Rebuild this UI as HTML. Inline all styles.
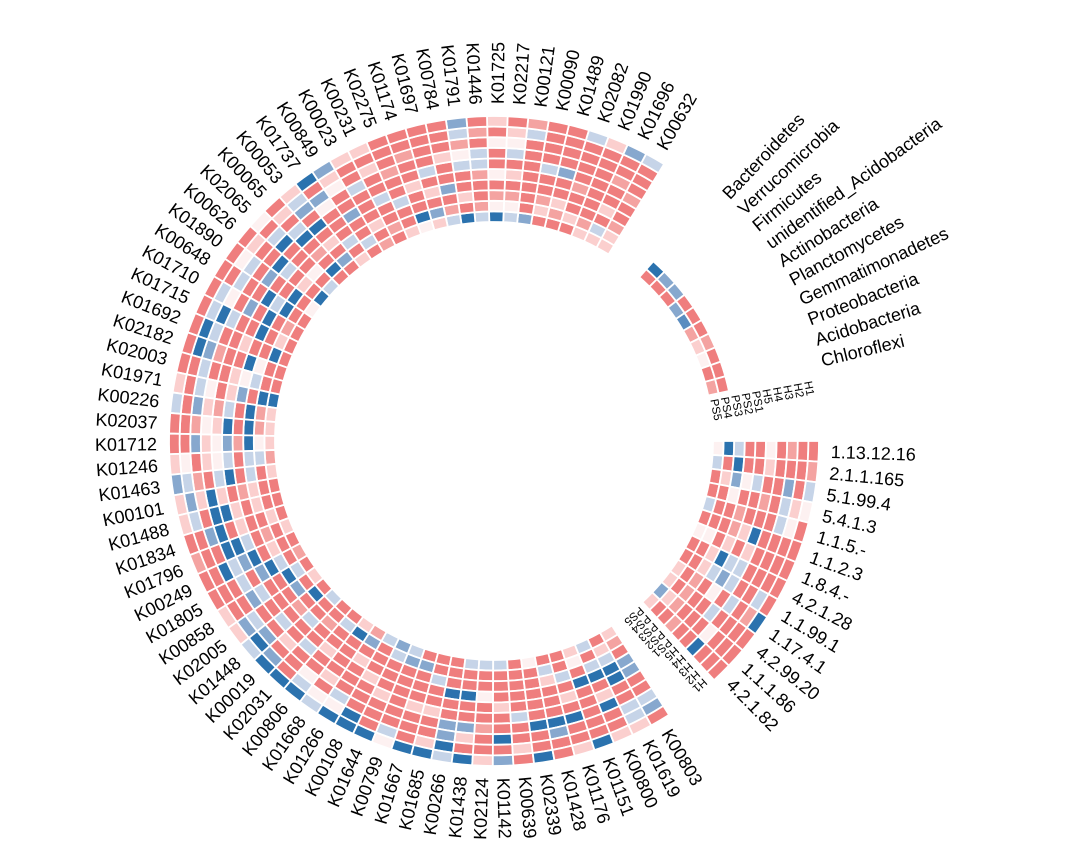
<!DOCTYPE html>
<html><head><meta charset="utf-8"><style>
html,body{margin:0;padding:0;background:#fff;}
svg{display:block;}
use{fill:#EF7E7E;stroke:#fff;stroke-width:1.8;}
.r{fill:#F4A3A1}.p{fill:#FBCFCE}.w{fill:#FDF1F1}.l{fill:#C6D4E8}.m{fill:#87A8CE}.M{fill:#5B8DC0}.B{fill:#2B72AE}
text{font-family:"Liberation Sans",Arial,sans-serif;font-size:18px;fill:#000;}
.t{font-size:11.5px;}
</style></head><body>
<svg width="1076" height="854" viewBox="0 0 1076 854" xmlns="http://www.w3.org/2000/svg">
<defs>
<path id="c0" d="M229.484,-7.3A229.6,229.6 0 0 1 229.484,7.3L218.889,6.963A219,219 0 0 0 218.889,-6.963Z"/>
<path id="c1" d="M240.078,-7.637A240.2,240.2 0 0 1 240.078,7.637L229.484,7.3A229.6,229.6 0 0 0 229.484,-7.3Z"/>
<path id="c2" d="M250.673,-7.974A250.8,250.8 0 0 1 250.673,7.974L240.078,7.637A240.2,240.2 0 0 0 240.078,-7.637Z"/>
<path id="c3" d="M261.268,-8.311A261.4,261.4 0 0 1 261.268,8.311L250.673,7.974A250.8,250.8 0 0 0 250.673,-7.974Z"/>
<path id="c4" d="M271.862,-8.648A272,272 0 0 1 271.862,8.648L261.268,8.311A261.4,261.4 0 0 0 261.268,-8.311Z"/>
<path id="c5" d="M282.457,-8.985A282.6,282.6 0 0 1 282.457,8.985L271.862,8.648A272,272 0 0 0 271.862,-8.648Z"/>
<path id="c6" d="M293.052,-9.322A293.2,293.2 0 0 1 293.052,9.322L282.457,8.985A282.6,282.6 0 0 0 282.457,-8.985Z"/>
<path id="c7" d="M303.646,-9.659A303.8,303.8 0 0 1 303.646,9.659L293.052,9.322A293.2,293.2 0 0 0 293.052,-9.322Z"/>
<path id="c8" d="M314.241,-9.996A314.4,314.4 0 0 1 314.241,9.996L303.646,9.659A303.8,303.8 0 0 0 303.646,-9.659Z"/>
<path id="c9" d="M324.836,-10.333A325,325 0 0 1 324.836,10.333L314.241,9.996A314.4,314.4 0 0 0 314.241,-9.996Z"/>
</defs>
<g transform="translate(494,441)">
<!-- K sector cells -->
<g transform="rotate(-60.262)"><use href="#c0" class="p"/><use href="#c1" class="p"/><use href="#c2" class="r"/><use href="#c3"/><use href="#c4"/><use href="#c5" class="r"/><use href="#c6"/><use href="#c7"/><use href="#c8"/><use href="#c9" class="l"/></g>
<g transform="rotate(-63.906)"><use href="#c0" class="p"/><use href="#c1" class="l"/><use href="#c2"/><use href="#c3" class="p"/><use href="#c4"/><use href="#c5"/><use href="#c6" class="r"/><use href="#c7"/><use href="#c8"/><use href="#c9" class="m"/></g>
<g transform="rotate(-67.550)"><use href="#c0" class="p"/><use href="#c1" class="r"/><use href="#c2"/><use href="#c3"/><use href="#c4"/><use href="#c5"/><use href="#c6"/><use href="#c7"/><use href="#c8"/><use href="#c9" class="p"/></g>
<g transform="rotate(-71.194)"><use href="#c0"/><use href="#c1" class="p"/><use href="#c2"/><use href="#c3"/><use href="#c4" class="r"/><use href="#c5"/><use href="#c6"/><use href="#c7"/><use href="#c8"/><use href="#c9" class="l"/></g>
<g transform="rotate(-74.838)"><use href="#c0"/><use href="#c1" class="r"/><use href="#c2" class="p"/><use href="#c3"/><use href="#c4"/><use href="#c5" class="m"/><use href="#c6"/><use href="#c7"/><use href="#c8"/><use href="#c9"/></g>
<g transform="rotate(-78.482)"><use href="#c0"/><use href="#c1" class="p"/><use href="#c2" class="r"/><use href="#c3"/><use href="#c4"/><use href="#c5" class="l"/><use href="#c6"/><use href="#c7"/><use href="#c8"/><use href="#c9"/></g>
<g transform="rotate(-82.126)"><use href="#c0" class="m"/><use href="#c1"/><use href="#c2"/><use href="#c3"/><use href="#c4"/><use href="#c5"/><use href="#c6"/><use href="#c7"/><use href="#c8" class="l"/><use href="#c9" class="r"/></g>
<g transform="rotate(-85.770)"><use href="#c0" class="l"/><use href="#c1" class="w"/><use href="#c2" class="r"/><use href="#c3"/><use href="#c4" class="p"/><use href="#c5"/><use href="#c6" class="l"/><use href="#c7" class="w"/><use href="#c8" class="p"/><use href="#c9"/></g>
<g transform="rotate(-89.414)"><use href="#c0" class="B"/><use href="#c1" class="w"/><use href="#c2" class="r"/><use href="#c3"/><use href="#c4" class="w"/><use href="#c5"/><use href="#c6"/><use href="#c7" class="w"/><use href="#c8"/><use href="#c9" class="p"/></g>
<g transform="rotate(-93.058)"><use href="#c0" class="l"/><use href="#c1" class="r"/><use href="#c2"/><use href="#c3"/><use href="#c4" class="r"/><use href="#c5" class="l"/><use href="#c6" class="l"/><use href="#c7"/><use href="#c8" class="r"/><use href="#c9"/></g>
<g transform="rotate(-96.702)"><use href="#c0" class="B"/><use href="#c1"/><use href="#c2" class="p"/><use href="#c3"/><use href="#c4"/><use href="#c5" class="l"/><use href="#c6" class="w"/><use href="#c7" class="r"/><use href="#c8" class="l"/><use href="#c9" class="m"/></g>
<g transform="rotate(-100.346)"><use href="#c0" class="l"/><use href="#c1" class="r"/><use href="#c2"/><use href="#c3" class="m"/><use href="#c4"/><use href="#c5"/><use href="#c6" class="p"/><use href="#c7"/><use href="#c8"/><use href="#c9"/></g>
<g transform="rotate(-103.990)"><use href="#c0" class="p"/><use href="#c1" class="m"/><use href="#c2"/><use href="#c3" class="p"/><use href="#c4"/><use href="#c5" class="l"/><use href="#c6"/><use href="#c7"/><use href="#c8"/><use href="#c9"/></g>
<g transform="rotate(-107.634)"><use href="#c0" class="w"/><use href="#c1" class="B"/><use href="#c2"/><use href="#c3"/><use href="#c4" class="p"/><use href="#c5"/><use href="#c6"/><use href="#c7" class="r"/><use href="#c8"/><use href="#c9"/></g>
<g transform="rotate(-111.278)"><use href="#c0" class="p"/><use href="#c1"/><use href="#c2"/><use href="#c3" class="l"/><use href="#c4"/><use href="#c5"/><use href="#c6" class="r"/><use href="#c7"/><use href="#c8"/><use href="#c9"/></g>
<g transform="rotate(-114.922)"><use href="#c0"/><use href="#c1" class="r"/><use href="#c2"/><use href="#c3"/><use href="#c4" class="l"/><use href="#c5"/><use href="#c6"/><use href="#c7" class="p"/><use href="#c8"/><use href="#c9" class="p"/></g>
<g transform="rotate(-118.566)"><use href="#c0" class="r"/><use href="#c1"/><use href="#c2" class="p"/><use href="#c3"/><use href="#c4"/><use href="#c5"/><use href="#c6" class="l"/><use href="#c7"/><use href="#c8"/><use href="#c9" class="p"/></g>
<g transform="rotate(-122.210)"><use href="#c0"/><use href="#c1" class="l"/><use href="#c2"/><use href="#c3"/><use href="#c4" class="m"/><use href="#c5"/><use href="#c6"/><use href="#c7" class="w"/><use href="#c8" class="p"/><use href="#c9" class="m"/></g>
<g transform="rotate(-125.854)"><use href="#c0" class="p"/><use href="#c1"/><use href="#c2" class="l"/><use href="#c3"/><use href="#c4"/><use href="#c5"/><use href="#c6" class="w"/><use href="#c7" class="m"/><use href="#c8"/><use href="#c9" class="B"/></g>
<g transform="rotate(-129.498)"><use href="#c0"/><use href="#c1" class="m"/><use href="#c2"/><use href="#c3" class="p"/><use href="#c4"/><use href="#c5" class="B"/><use href="#c6"/><use href="#c7" class="m"/><use href="#c8" class="l"/><use href="#c9" class="p"/></g>
<g transform="rotate(-133.142)"><use href="#c0"/><use href="#c1" class="B"/><use href="#c2"/><use href="#c3" class="r"/><use href="#c4"/><use href="#c5" class="B"/><use href="#c6" class="l"/><use href="#c7"/><use href="#c8" class="p"/><use href="#c9"/></g>
<g transform="rotate(-136.786)"><use href="#c0" class="l"/><use href="#c1"/><use href="#c2" class="w"/><use href="#c3"/><use href="#c4"/><use href="#c5"/><use href="#c6" class="B"/><use href="#c7" class="l"/><use href="#c8"/><use href="#c9" class="w"/></g>
<g transform="rotate(-140.430)"><use href="#c0" class="B"/><use href="#c1"/><use href="#c2" class="p"/><use href="#c3"/><use href="#c4" class="l"/><use href="#c5" class="B"/><use href="#c6"/><use href="#c7"/><use href="#c8" class="p"/><use href="#c9"/></g>
<g transform="rotate(-144.074)"><use href="#c0" class="w"/><use href="#c1"/><use href="#c2" class="B"/><use href="#c3"/><use href="#c4"/><use href="#c5" class="m"/><use href="#c6"/><use href="#c7" class="l"/><use href="#c8" class="w"/><use href="#c9"/></g>
<g transform="rotate(-147.718)"><use href="#c0"/><use href="#c1"/><use href="#c2" class="B"/><use href="#c3" class="l"/><use href="#c4" class="B"/><use href="#c5"/><use href="#c6"/><use href="#c7" class="l"/><use href="#c8"/><use href="#c9"/></g>
<g transform="rotate(-151.362)"><use href="#c0"/><use href="#c1" class="r"/><use href="#c2"/><use href="#c3" class="B"/><use href="#c4"/><use href="#c5" class="m"/><use href="#c6"/><use href="#c7" class="w"/><use href="#c8" class="l"/><use href="#c9"/></g>
<g transform="rotate(-155.006)"><use href="#c0"/><use href="#c1" class="p"/><use href="#c2"/><use href="#c3" class="B"/><use href="#c4"/><use href="#c5"/><use href="#c6" class="l"/><use href="#c7" class="B"/><use href="#c8" class="l"/><use href="#c9"/></g>
<g transform="rotate(-158.650)"><use href="#c0"/><use href="#c1" class="B"/><use href="#c2"/><use href="#c3"/><use href="#c4" class="p"/><use href="#c5"/><use href="#c6"/><use href="#c7" class="l"/><use href="#c8" class="B"/><use href="#c9"/></g>
<g transform="rotate(-162.294)"><use href="#c0"/><use href="#c1"/><use href="#c2" class="w"/><use href="#c3" class="B"/><use href="#c4"/><use href="#c5"/><use href="#c6" class="r"/><use href="#c7" class="m"/><use href="#c8" class="B"/><use href="#c9"/></g>
<g transform="rotate(-165.938)"><use href="#c0"/><use href="#c1"/><use href="#c2" class="l"/><use href="#c3" class="w"/><use href="#c4" class="p"/><use href="#c5"/><use href="#c6"/><use href="#c7" class="l"/><use href="#c8"/><use href="#c9"/></g>
<g transform="rotate(-169.582)"><use href="#c0" class="B"/><use href="#c1" class="B"/><use href="#c2"/><use href="#c3" class="m"/><use href="#c4" class="p"/><use href="#c5"/><use href="#c6" class="w"/><use href="#c7" class="l"/><use href="#c8"/><use href="#c9" class="p"/></g>
<g transform="rotate(-173.226)"><use href="#c0" class="p"/><use href="#c1" class="r"/><use href="#c2" class="B"/><use href="#c3"/><use href="#c4" class="l"/><use href="#c5" class="r"/><use href="#c6" class="p"/><use href="#c7" class="m"/><use href="#c8"/><use href="#c9" class="l"/></g>
<g transform="rotate(-176.870)"><use href="#c0" class="p"/><use href="#c1" class="r"/><use href="#c2" class="B"/><use href="#c3"/><use href="#c4" class="B"/><use href="#c5" class="p"/><use href="#c6" class="w"/><use href="#c7" class="r"/><use href="#c8"/><use href="#c9"/></g>
<g transform="rotate(-180.514)"><use href="#c0" class="p"/><use href="#c1" class="w"/><use href="#c2" class="B"/><use href="#c3" class="r"/><use href="#c4" class="m"/><use href="#c5" class="w"/><use href="#c6" class="p"/><use href="#c7" class="m"/><use href="#c8"/><use href="#c9"/></g>
<g transform="rotate(-184.158)"><use href="#c0" class="r"/><use href="#c1" class="l"/><use href="#c2" class="l"/><use href="#c3"/><use href="#c4" class="l"/><use href="#c5" class="w"/><use href="#c6" class="p"/><use href="#c7"/><use href="#c8" class="w"/><use href="#c9" class="p"/></g>
<g transform="rotate(-187.802)"><use href="#c0" class="p"/><use href="#c1"/><use href="#c2" class="l"/><use href="#c3"/><use href="#c4" class="B"/><use href="#c5" class="l"/><use href="#c6"/><use href="#c7" class="r"/><use href="#c8" class="l"/><use href="#c9" class="m"/></g>
<g transform="rotate(-191.446)"><use href="#c0"/><use href="#c1"/><use href="#c2" class="p"/><use href="#c3" class="r"/><use href="#c4"/><use href="#c5" class="p"/><use href="#c6" class="B"/><use href="#c7" class="p"/><use href="#c8" class="m"/><use href="#c9" class="p"/></g>
<g transform="rotate(-195.090)"><use href="#c0"/><use href="#c1"/><use href="#c2" class="p"/><use href="#c3"/><use href="#c4" class="p"/><use href="#c5" class="B"/><use href="#c6" class="B"/><use href="#c7"/><use href="#c8" class="l"/><use href="#c9" class="p"/></g>
<g transform="rotate(-198.734)"><use href="#c0"/><use href="#c1" class="p"/><use href="#c2"/><use href="#c3"/><use href="#c4" class="p"/><use href="#c5"/><use href="#c6" class="B"/><use href="#c7" class="m"/><use href="#c8"/><use href="#c9"/></g>
<g transform="rotate(-202.378)"><use href="#c0" class="p"/><use href="#c1"/><use href="#c2" class="r"/><use href="#c3"/><use href="#c4" class="l"/><use href="#c5" class="B"/><use href="#c6" class="B"/><use href="#c7"/><use href="#c8"/><use href="#c9" class="r"/></g>
<g transform="rotate(-206.022)"><use href="#c0"/><use href="#c1"/><use href="#c2" class="p"/><use href="#c3"/><use href="#c4" class="B"/><use href="#c5" class="m"/><use href="#c6" class="l"/><use href="#c7" class="B"/><use href="#c8"/><use href="#c9"/></g>
<g transform="rotate(-209.666)"><use href="#c0" class="r"/><use href="#c1"/><use href="#c2" class="l"/><use href="#c3" class="B"/><use href="#c4" class="m"/><use href="#c5"/><use href="#c6" class="l"/><use href="#c7"/><use href="#c8"/><use href="#c9"/></g>
<g transform="rotate(-213.310)"><use href="#c0"/><use href="#c1" class="l"/><use href="#c2" class="B"/><use href="#c3"/><use href="#c4"/><use href="#c5" class="l"/><use href="#c6" class="m"/><use href="#c7"/><use href="#c8"/><use href="#c9" class="p"/></g>
<g transform="rotate(-216.954)"><use href="#c0" class="p"/><use href="#c1"/><use href="#c2" class="m"/><use href="#c3"/><use href="#c4"/><use href="#c5"/><use href="#c6"/><use href="#c7" class="l"/><use href="#c8" class="m"/><use href="#c9" class="p"/></g>
<g transform="rotate(-220.598)"><use href="#c0"/><use href="#c1" class="B"/><use href="#c2"/><use href="#c3" class="r"/><use href="#c4"/><use href="#c5" class="l"/><use href="#c6"/><use href="#c7" class="m"/><use href="#c8" class="B"/><use href="#c9" class="l"/></g>
<g transform="rotate(-224.242)"><use href="#c0" class="l"/><use href="#c1"/><use href="#c2"/><use href="#c3" class="l"/><use href="#c4"/><use href="#c5"/><use href="#c6" class="p"/><use href="#c7"/><use href="#c8" class="m"/><use href="#c9" class="B"/></g>
<g transform="rotate(-227.886)"><use href="#c0"/><use href="#c1"/><use href="#c2" class="r"/><use href="#c3"/><use href="#c4"/><use href="#c5" class="l"/><use href="#c6"/><use href="#c7"/><use href="#c8"/><use href="#c9" class="B"/></g>
<g transform="rotate(-231.530)"><use href="#c0"/><use href="#c1" class="l"/><use href="#c2"/><use href="#c3"/><use href="#c4" class="p"/><use href="#c5"/><use href="#c6"/><use href="#c7" class="w"/><use href="#c8" class="l"/><use href="#c9" class="B"/></g>
<g transform="rotate(-235.174)"><use href="#c0" class="p"/><use href="#c1" class="B"/><use href="#c2"/><use href="#c3"/><use href="#c4"/><use href="#c5"/><use href="#c6" class="p"/><use href="#c7"/><use href="#c8" class="w"/><use href="#c9" class="l"/></g>
<g transform="rotate(-238.818)"><use href="#c0" class="r"/><use href="#c1" class="m"/><use href="#c2"/><use href="#c3" class="p"/><use href="#c4"/><use href="#c5"/><use href="#c6"/><use href="#c7" class="l"/><use href="#c8" class="w"/><use href="#c9" class="B"/></g>
<g transform="rotate(-242.462)"><use href="#c0" class="l"/><use href="#c1"/><use href="#c2"/><use href="#c3"/><use href="#c4" class="p"/><use href="#c5"/><use href="#c6"/><use href="#c7"/><use href="#c8" class="B"/><use href="#c9" class="B"/></g>
<g transform="rotate(-246.106)"><use href="#c0" class="m"/><use href="#c1" class="l"/><use href="#c2"/><use href="#c3"/><use href="#c4"/><use href="#c5" class="p"/><use href="#c6"/><use href="#c7"/><use href="#c8"/><use href="#c9" class="B"/></g>
<g transform="rotate(-249.750)"><use href="#c0" class="l"/><use href="#c1" class="m"/><use href="#c2"/><use href="#c3"/><use href="#c4"/><use href="#c5"/><use href="#c6"/><use href="#c7"/><use href="#c8" class="l"/><use href="#c9" class="w"/></g>
<g transform="rotate(-253.394)"><use href="#c0"/><use href="#c1" class="m"/><use href="#c2"/><use href="#c3"/><use href="#c4"/><use href="#c5" class="p"/><use href="#c6"/><use href="#c7"/><use href="#c8"/><use href="#c9" class="B"/></g>
<g transform="rotate(-257.038)"><use href="#c0"/><use href="#c1"/><use href="#c2" class="l"/><use href="#c3"/><use href="#c4"/><use href="#c5" class="p"/><use href="#c6"/><use href="#c7"/><use href="#c8" class="p"/><use href="#c9" class="B"/></g>
<g transform="rotate(-260.682)"><use href="#c0"/><use href="#c1"/><use href="#c2"/><use href="#c3" class="B"/><use href="#c4"/><use href="#c5"/><use href="#c6" class="m"/><use href="#c7" class="m"/><use href="#c8" class="B"/><use href="#c9" class="l"/></g>
<g transform="rotate(-264.326)"><use href="#c0" class="l"/><use href="#c1"/><use href="#c2"/><use href="#c3" class="B"/><use href="#c4"/><use href="#c5"/><use href="#c6" class="m"/><use href="#c7" class="p"/><use href="#c8"/><use href="#c9" class="B"/></g>
<g transform="rotate(-267.970)"><use href="#c0" class="l"/><use href="#c1"/><use href="#c2"/><use href="#c3" class="w"/><use href="#c4"/><use href="#c5"/><use href="#c6" class="r"/><use href="#c7"/><use href="#c8"/><use href="#c9" class="p"/></g>
<g transform="rotate(-271.614)"><use href="#c0" class="l"/><use href="#c1"/><use href="#c2"/><use href="#c3"/><use href="#c4" class="p"/><use href="#c5"/><use href="#c6"/><use href="#c7" class="B"/><use href="#c8"/><use href="#c9" class="m"/></g>
<g transform="rotate(-275.258)"><use href="#c0"/><use href="#c1"/><use href="#c2"/><use href="#c3"/><use href="#c4"/><use href="#c5" class="l"/><use href="#c6"/><use href="#c7"/><use href="#c8" class="p"/><use href="#c9"/></g>
<g transform="rotate(-278.902)"><use href="#c0" class="w"/><use href="#c1"/><use href="#c2"/><use href="#c3"/><use href="#c4"/><use href="#c5"/><use href="#c6" class="B"/><use href="#c7"/><use href="#c8"/><use href="#c9" class="B"/></g>
<g transform="rotate(-282.546)"><use href="#c0"/><use href="#c1" class="l"/><use href="#c2" class="p"/><use href="#c3"/><use href="#c4"/><use href="#c5"/><use href="#c6" class="B"/><use href="#c7" class="m"/><use href="#c8"/><use href="#c9"/></g>
<g transform="rotate(-286.190)"><use href="#c0"/><use href="#c1"/><use href="#c2" class="l"/><use href="#c3"/><use href="#c4" class="p"/><use href="#c5"/><use href="#c6" class="B"/><use href="#c7"/><use href="#c8"/><use href="#c9" class="p"/></g>
<g transform="rotate(-289.834)"><use href="#c0" class="p"/><use href="#c1" class="w"/><use href="#c2"/><use href="#c3" class="B"/><use href="#c4"/><use href="#c5"/><use href="#c6"/><use href="#c7"/><use href="#c8"/><use href="#c9" class="B"/></g>
<g transform="rotate(-293.478)"><use href="#c0" class="l"/><use href="#c1"/><use href="#c2" class="l"/><use href="#c3" class="B"/><use href="#c4"/><use href="#c5" class="p"/><use href="#c6" class="B"/><use href="#c7"/><use href="#c8"/><use href="#c9" class="p"/></g>
<g transform="rotate(-297.122)"><use href="#c0"/><use href="#c1" class="p"/><use href="#c2" class="l"/><use href="#c3" class="B"/><use href="#c4" class="B"/><use href="#c5"/><use href="#c6"/><use href="#c7" class="l"/><use href="#c8" class="l"/><use href="#c9" class="p"/></g>
<g transform="rotate(-300.766)"><use href="#c0" class="p"/><use href="#c1" class="r"/><use href="#c2"/><use href="#c3" class="m"/><use href="#c4" class="m"/><use href="#c5"/><use href="#c6"/><use href="#c7" class="l"/><use href="#c8" class="m"/><use href="#c9"/></g>
<!-- EC sector cells -->
<g transform="rotate(1.822)"><use href="#c0" class="w"/><use href="#c1" class="B"/><use href="#c2" class="l"/><use href="#c3"/><use href="#c4"/><use href="#c5" class="w"/><use href="#c6"/><use href="#c7" class="r"/><use href="#c8"/><use href="#c9"/></g>
<g transform="rotate(5.466)"><use href="#c0" class="l"/><use href="#c1"/><use href="#c2" class="B"/><use href="#c3"/><use href="#c4"/><use href="#c5" class="p"/><use href="#c6"/><use href="#c7"/><use href="#c8"/><use href="#c9" class="r"/></g>
<g transform="rotate(9.110)"><use href="#c0"/><use href="#c1" class="p"/><use href="#c2" class="m"/><use href="#c3" class="w"/><use href="#c4" class="l"/><use href="#c5"/><use href="#c6"/><use href="#c7" class="m"/><use href="#c8"/><use href="#c9" class="l"/></g>
<g transform="rotate(12.754)"><use href="#c0"/><use href="#c1"/><use href="#c2" class="w"/><use href="#c3"/><use href="#c4"/><use href="#c5" class="r"/><use href="#c6"/><use href="#c7" class="l"/><use href="#c8" class="p"/><use href="#c9" class="w"/></g>
<g transform="rotate(16.398)"><use href="#c0" class="l"/><use href="#c1"/><use href="#c2"/><use href="#c3" class="r"/><use href="#c4"/><use href="#c5"/><use href="#c6"/><use href="#c7" class="l"/><use href="#c8" class="w"/><use href="#c9"/></g>
<g transform="rotate(20.042)"><use href="#c0"/><use href="#c1"/><use href="#c2"/><use href="#c3" class="r"/><use href="#c4" class="p"/><use href="#c5" class="B"/><use href="#c6"/><use href="#c7"/><use href="#c8"/><use href="#c9"/></g>
<g transform="rotate(23.686)"><use href="#c0" class="w"/><use href="#c1" class="w"/><use href="#c2"/><use href="#c3" class="p"/><use href="#c4"/><use href="#c5" class="p"/><use href="#c6"/><use href="#c7"/><use href="#c8"/><use href="#c9"/></g>
<g transform="rotate(27.330)"><use href="#c0"/><use href="#c1"/><use href="#c2" class="p"/><use href="#c3" class="B"/><use href="#c4" class="l"/><use href="#c5" class="l"/><use href="#c6"/><use href="#c7"/><use href="#c8"/><use href="#c9"/></g>
<g transform="rotate(30.974)"><use href="#c0"/><use href="#c1"/><use href="#c2" class="p"/><use href="#c3" class="l"/><use href="#c4" class="m"/><use href="#c5" class="l"/><use href="#c6"/><use href="#c7"/><use href="#c8" class="l"/><use href="#c9"/></g>
<g transform="rotate(34.618)"><use href="#c0" class="p"/><use href="#c1"/><use href="#c2" class="r"/><use href="#c3"/><use href="#c4" class="w"/><use href="#c5"/><use href="#c6" class="l"/><use href="#c7"/><use href="#c8" class="r"/><use href="#c9" class="B"/></g>
<g transform="rotate(38.262)"><use href="#c0" class="p"/><use href="#c1"/><use href="#c2" class="r"/><use href="#c3"/><use href="#c4"/><use href="#c5" class="l"/><use href="#c6"/><use href="#c7"/><use href="#c8"/><use href="#c9"/></g>
<g transform="rotate(41.906)"><use href="#c0" class="m"/><use href="#c1" class="p"/><use href="#c2" class="r"/><use href="#c3"/><use href="#c4"/><use href="#c5"/><use href="#c6" class="w"/><use href="#c7"/><use href="#c8"/><use href="#c9"/></g>
<g transform="rotate(45.550)"><use href="#c0" class="p"/><use href="#c1"/><use href="#c2"/><use href="#c3" class="r"/><use href="#c4"/><use href="#c5"/><use href="#c6" class="B"/><use href="#c7"/><use href="#c8"/><use href="#c9"/></g>
<!-- Bacteria sector cells -->
<g transform="rotate(-46.618)"><use href="#c0"/><use href="#c1" class="B"/></g>
<g transform="rotate(-42.974)"><use href="#c0"/><use href="#c1" class="m"/></g>
<g transform="rotate(-39.330)"><use href="#c0"/><use href="#c1" class="m"/></g>
<g transform="rotate(-35.686)"><use href="#c0" class="m"/><use href="#c1"/></g>
<g transform="rotate(-32.042)"><use href="#c0" class="M"/><use href="#c1"/></g>
<g transform="rotate(-28.398)"><use href="#c0" class="r"/><use href="#c1"/></g>
<g transform="rotate(-24.754)"><use href="#c0" class="p"/><use href="#c1" class="r"/></g>
<g transform="rotate(-21.110)"><use href="#c0" class="w"/><use href="#c1"/></g>
<g transform="rotate(-17.466)"><use href="#c0"/><use href="#c1"/></g>
<g transform="rotate(-13.822)"><use href="#c0" class="r"/><use href="#c1"/></g>

<!-- K labels -->
<text transform="rotate(-60.262)" x="337" dy=".35em">K00632</text>
<text transform="rotate(-63.906)" x="337" dy=".35em">K01696</text>
<text transform="rotate(-67.550)" x="337" dy=".35em">K01990</text>
<text transform="rotate(-71.194)" x="337" dy=".35em">K02082</text>
<text transform="rotate(-74.838)" x="337" dy=".35em">K01489</text>
<text transform="rotate(-78.482)" x="337" dy=".35em">K00090</text>
<text transform="rotate(-82.126)" x="337" dy=".35em">K00121</text>
<text transform="rotate(-85.770)" x="337" dy=".35em">K02217</text>
<text transform="rotate(-89.414)" x="337" dy=".35em">K01725</text>
<text transform="rotate(86.942)" x="-337" text-anchor="end" dy=".35em">K01446</text>
<text transform="rotate(83.298)" x="-337" text-anchor="end" dy=".35em">K01791</text>
<text transform="rotate(79.654)" x="-337" text-anchor="end" dy=".35em">K00784</text>
<text transform="rotate(76.010)" x="-337" text-anchor="end" dy=".35em">K01697</text>
<text transform="rotate(72.366)" x="-337" text-anchor="end" dy=".35em">K01174</text>
<text transform="rotate(68.722)" x="-337" text-anchor="end" dy=".35em">K02275</text>
<text transform="rotate(65.078)" x="-337" text-anchor="end" dy=".35em">K00231</text>
<text transform="rotate(61.434)" x="-337" text-anchor="end" dy=".35em">K00023</text>
<text transform="rotate(57.790)" x="-337" text-anchor="end" dy=".35em">K00849</text>
<text transform="rotate(54.146)" x="-337" text-anchor="end" dy=".35em">K01737</text>
<text transform="rotate(50.502)" x="-337" text-anchor="end" dy=".35em">K00053</text>
<text transform="rotate(46.858)" x="-337" text-anchor="end" dy=".35em">K00065</text>
<text transform="rotate(43.214)" x="-337" text-anchor="end" dy=".35em">K02065</text>
<text transform="rotate(39.570)" x="-337" text-anchor="end" dy=".35em">K00626</text>
<text transform="rotate(35.926)" x="-337" text-anchor="end" dy=".35em">K01890</text>
<text transform="rotate(32.282)" x="-337" text-anchor="end" dy=".35em">K00648</text>
<text transform="rotate(28.638)" x="-337" text-anchor="end" dy=".35em">K01710</text>
<text transform="rotate(24.994)" x="-337" text-anchor="end" dy=".35em">K01715</text>
<text transform="rotate(21.350)" x="-337" text-anchor="end" dy=".35em">K01692</text>
<text transform="rotate(17.706)" x="-337" text-anchor="end" dy=".35em">K02182</text>
<text transform="rotate(14.062)" x="-337" text-anchor="end" dy=".35em">K02003</text>
<text transform="rotate(10.418)" x="-337" text-anchor="end" dy=".35em">K01971</text>
<text transform="rotate(6.774)" x="-337" text-anchor="end" dy=".35em">K00226</text>
<text transform="rotate(3.130)" x="-337" text-anchor="end" dy=".35em">K02037</text>
<text transform="rotate(-0.514)" x="-337" text-anchor="end" dy=".35em">K01712</text>
<text transform="rotate(-4.158)" x="-337" text-anchor="end" dy=".35em">K01246</text>
<text transform="rotate(-7.802)" x="-337" text-anchor="end" dy=".35em">K01463</text>
<text transform="rotate(-11.446)" x="-337" text-anchor="end" dy=".35em">K00101</text>
<text transform="rotate(-15.090)" x="-337" text-anchor="end" dy=".35em">K01488</text>
<text transform="rotate(-18.734)" x="-337" text-anchor="end" dy=".35em">K01834</text>
<text transform="rotate(-22.378)" x="-337" text-anchor="end" dy=".35em">K01796</text>
<text transform="rotate(-26.022)" x="-337" text-anchor="end" dy=".35em">K00249</text>
<text transform="rotate(-29.666)" x="-337" text-anchor="end" dy=".35em">K01805</text>
<text transform="rotate(-33.310)" x="-337" text-anchor="end" dy=".35em">K00858</text>
<text transform="rotate(-36.954)" x="-337" text-anchor="end" dy=".35em">K02005</text>
<text transform="rotate(-40.598)" x="-337" text-anchor="end" dy=".35em">K01448</text>
<text transform="rotate(-44.242)" x="-337" text-anchor="end" dy=".35em">K00019</text>
<text transform="rotate(-47.886)" x="-337" text-anchor="end" dy=".35em">K02031</text>
<text transform="rotate(-51.530)" x="-337" text-anchor="end" dy=".35em">K00806</text>
<text transform="rotate(-55.174)" x="-337" text-anchor="end" dy=".35em">K01668</text>
<text transform="rotate(-58.818)" x="-337" text-anchor="end" dy=".35em">K01266</text>
<text transform="rotate(-62.462)" x="-337" text-anchor="end" dy=".35em">K00108</text>
<text transform="rotate(-66.106)" x="-337" text-anchor="end" dy=".35em">K01644</text>
<text transform="rotate(-69.750)" x="-337" text-anchor="end" dy=".35em">K00799</text>
<text transform="rotate(-73.394)" x="-337" text-anchor="end" dy=".35em">K01667</text>
<text transform="rotate(-77.038)" x="-337" text-anchor="end" dy=".35em">K01685</text>
<text transform="rotate(-80.682)" x="-337" text-anchor="end" dy=".35em">K00266</text>
<text transform="rotate(-84.326)" x="-337" text-anchor="end" dy=".35em">K01438</text>
<text transform="rotate(-87.970)" x="-337" text-anchor="end" dy=".35em">K02124</text>
<text transform="rotate(88.386)" x="337" dy=".35em">K01142</text>
<text transform="rotate(84.742)" x="337" dy=".35em">K00639</text>
<text transform="rotate(81.098)" x="337" dy=".35em">K02339</text>
<text transform="rotate(77.454)" x="337" dy=".35em">K01428</text>
<text transform="rotate(73.810)" x="337" dy=".35em">K01176</text>
<text transform="rotate(70.166)" x="337" dy=".35em">K01151</text>
<text transform="rotate(66.522)" x="337" dy=".35em">K00800</text>
<text transform="rotate(62.878)" x="337" dy=".35em">K01619</text>
<text transform="rotate(59.234)" x="337" dy=".35em">K00803</text>
<!-- EC labels -->
<text transform="rotate(1.822)" x="337" dy=".35em">1.13.12.16</text>
<text transform="rotate(5.466)" x="337" dy=".35em">2.1.1.165</text>
<text transform="rotate(9.110)" x="337" dy=".35em">5.1.99.4</text>
<text transform="rotate(12.754)" x="337" dy=".35em">5.4.1.3</text>
<text transform="rotate(16.398)" x="337" dy=".35em">1.1.5.-</text>
<text transform="rotate(20.042)" x="337" dy=".35em">1.1.2.3</text>
<text transform="rotate(23.686)" x="337" dy=".35em">1.8.4.-</text>
<text transform="rotate(27.330)" x="337" dy=".35em">4.2.1.28</text>
<text transform="rotate(30.974)" x="337" dy=".35em">1.1.99.1</text>
<text transform="rotate(34.618)" x="337" dy=".35em">1.17.4.1</text>
<text transform="rotate(38.262)" x="337" dy=".35em">4.2.99.20</text>
<text transform="rotate(41.906)" x="337" dy=".35em">1.1.1.86</text>
<text transform="rotate(45.550)" x="337" dy=".35em">4.2.1.82</text>
<!-- Bacteria labels -->
<text transform="rotate(-46.618)" x="337" dy=".35em">Bacteroidetes</text>
<text transform="rotate(-42.974)" x="337" dy=".35em">Verrucomicrobia</text>
<text transform="rotate(-39.330)" x="337" dy=".35em">Firmicutes</text>
<text transform="rotate(-35.686)" x="337" dy=".35em">unidentified_Acidobacteria</text>
<text transform="rotate(-32.042)" x="337" dy=".35em">Actinobacteria</text>
<text transform="rotate(-28.398)" x="337" dy=".35em">Planctomycetes</text>
<text transform="rotate(-24.754)" x="337" dy=".35em">Gemmatimonadetes</text>
<text transform="rotate(-21.110)" x="337" dy=".35em">Proteobacteria</text>
<text transform="rotate(-17.466)" x="337" dy=".35em">Acidobacteria</text>
<text transform="rotate(-13.822)" x="337" dy=".35em">Chloroflexi</text>
<!-- track labels gap 1 -->
<text class="t" transform="translate(220.33,-42.03) rotate(79.2)" dy=".35em">PS5</text>
<text class="t" transform="translate(230.74,-44.02) rotate(79.2)" dy=".35em">PS4</text>
<text class="t" transform="translate(241.15,-46.00) rotate(79.2)" dy=".35em">PS3</text>
<text class="t" transform="translate(251.56,-47.99) rotate(79.2)" dy=".35em">PS2</text>
<text class="t" transform="translate(261.98,-49.97) rotate(79.2)" dy=".35em">PS1</text>
<text class="t" transform="translate(272.39,-51.96) rotate(79.2)" dy=".35em">H5</text>
<text class="t" transform="translate(282.80,-53.95) rotate(79.2)" dy=".35em">H4</text>
<text class="t" transform="translate(293.21,-55.93) rotate(79.2)" dy=".35em">H3</text>
<text class="t" transform="translate(303.63,-57.92) rotate(79.2)" dy=".35em">H2</text>
<text class="t" transform="translate(314.04,-59.91) rotate(79.2)" dy=".35em">H1</text>
<!-- track labels gap 2 -->
<text class="t" transform="translate(148.38,168.21) rotate(138.58)" dy=".35em">PS5</text>
<text class="t" transform="translate(155.39,176.16) rotate(138.58)" dy=".35em">PS4</text>
<text class="t" transform="translate(162.41,184.10) rotate(138.58)" dy=".35em">PS3</text>
<text class="t" transform="translate(169.42,192.05) rotate(138.58)" dy=".35em">PS2</text>
<text class="t" transform="translate(176.43,200.00) rotate(138.58)" dy=".35em">PS1</text>
<text class="t" transform="translate(183.44,207.95) rotate(138.58)" dy=".35em">H5</text>
<text class="t" transform="translate(190.45,215.90) rotate(138.58)" dy=".35em">H4</text>
<text class="t" transform="translate(197.47,223.85) rotate(138.58)" dy=".35em">H3</text>
<text class="t" transform="translate(204.48,231.80) rotate(138.58)" dy=".35em">H2</text>
<text class="t" transform="translate(211.49,239.75) rotate(138.58)" dy=".35em">H1</text>
</g>
</svg>
</body></html>
